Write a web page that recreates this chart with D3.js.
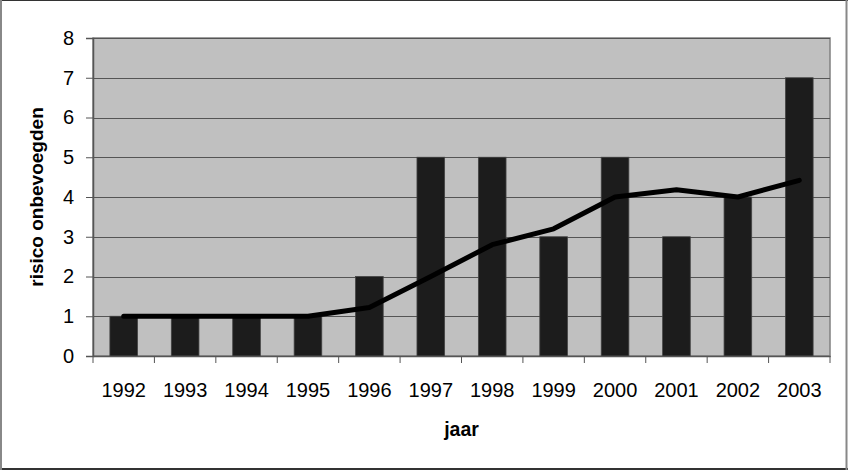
<!DOCTYPE html>
<html><head><meta charset="utf-8">
<script src="https://cdn.jsdelivr.net/npm/d3@7"></script>
<style>body{margin:0;background:#fff}svg{display:block}</style>
</head><body>
<svg id="c" width="848" height="470"></svg>
<script>
const years = ["1992","1993","1994","1995","1996","1997","1998","1999","2000","2001","2002","2003"];
const barValues = [1,1,1,1,2,5,5,3,5,3,4,7];
const lineValues = [1,1,1,1,1.22,2.0,2.8,3.2,4.0,4.18,4.0,4.42];
const yTicks = [0,1,2,3,4,5,6,7,8];
const xTitle = "jaar", yTitle = "risico onbevoegden";

const svg = d3.select("#c");
const W = 848, H = 470;
const m = {l:93, r:18, t:38, b:114};
const x = d3.scaleBand().domain(years).range([m.l, W - m.r]).paddingInner(0.55).paddingOuter(0.275);
const xb = d3.scaleBand().domain(years).range([m.l, W - m.r]);
const y = d3.scaleLinear().domain([0,8]).range([H - m.b, m.t]);
const font = "'Liberation Sans', Arial, Helvetica, sans-serif";

// frame
svg.append("rect").attr("x",0).attr("y",0).attr("width",W).attr("height",H).attr("fill","#fff");
svg.append("line").attr("x1",0).attr("x2",W).attr("y1",0.5).attr("y2",0.5).attr("stroke","#333");
svg.append("line").attr("x1",0).attr("x2",W).attr("y1",469).attr("y2",469).attr("stroke","#333").attr("stroke-width",2);
svg.append("line").attr("x1",1).attr("x2",1).attr("y1",0).attr("y2",H).attr("stroke","#888").attr("stroke-width",2);
svg.append("line").attr("x1",846.5).attr("x2",846.5).attr("y1",0).attr("y2",H).attr("stroke","#888").attr("stroke-width",2);

// plot area
svg.append("rect").attr("x",m.l).attr("y",m.t).attr("width",W-m.r-m.l).attr("height",H-m.b-m.t)
  .attr("fill","#c0c0c0").attr("stroke","#808080").attr("stroke-width",1.5);

// gridlines
svg.append("g").selectAll("line").data(yTicks.filter(d=>d>0)).join("line")
  .attr("x1",m.l).attr("x2",W-m.r).attr("y1",d=>Math.round(y(d))+0.5).attr("y2",d=>Math.round(y(d))+0.5)
  .attr("stroke","#555").attr("stroke-width",1);

// bars
svg.append("g").selectAll("rect").data(barValues).join("rect")
  .attr("x",(d,i)=>x(years[i])).attr("width",x.bandwidth())
  .attr("y",d=>y(d)).attr("height",d=>y(0)-y(d))
  .attr("fill","#1c1c1c").attr("stroke","#444").attr("stroke-width",0.8);

// line
const line = d3.line().x((d,i)=>xb(years[i])+xb.bandwidth()/2).y(d=>y(d));
svg.append("path").datum(lineValues).attr("d",line).attr("fill","none")
  .attr("stroke","#000").attr("stroke-width",5).attr("stroke-linejoin","round").attr("stroke-linecap","round");

// y axis
const ya = svg.append("g").attr("transform",`translate(${m.l},0)`)
  .call(d3.axisLeft(y).tickValues(yTicks).tickSize(7).tickPadding(12).tickFormat(d3.format("d")));
ya.select(".domain").attr("stroke","#555").attr("stroke-width",1.5);
ya.selectAll(".tick line").attr("stroke","#555");
ya.selectAll("text").attr("font-family",font).attr("font-size",20).attr("fill","#000");

// x axis
const xa = svg.append("g").attr("transform",`translate(0,${H-m.b})`)
  .call(d3.axisBottom(xb).tickSize(0).tickPadding(27));
xa.select(".domain").attr("stroke","#555").attr("stroke-width",1.5);
xa.selectAll("text").attr("font-family",font).attr("font-size",20).attr("fill","#000");
// boundary ticks
xa.append("g").selectAll("line").data(d3.range(years.length+1)).join("line")
  .attr("x1",i=>m.l + i*xb.step()).attr("x2",i=>m.l + i*xb.step())
  .attr("y1",0).attr("y2",7).attr("stroke","#555").attr("stroke-width",1);

// titles
svg.append("text").attr("x",(m.l+W-m.r)/2).attr("y",436).attr("text-anchor","middle")
  .attr("font-family",font).attr("font-size",19.5).attr("font-weight","bold").text(xTitle);
svg.append("text").attr("transform",`translate(43,${(m.t+H-m.b)/2}) rotate(-90)`).attr("text-anchor","middle")
  .attr("font-family",font).attr("font-size",19).attr("font-weight","bold").text(yTitle);
</script>
</body></html>
